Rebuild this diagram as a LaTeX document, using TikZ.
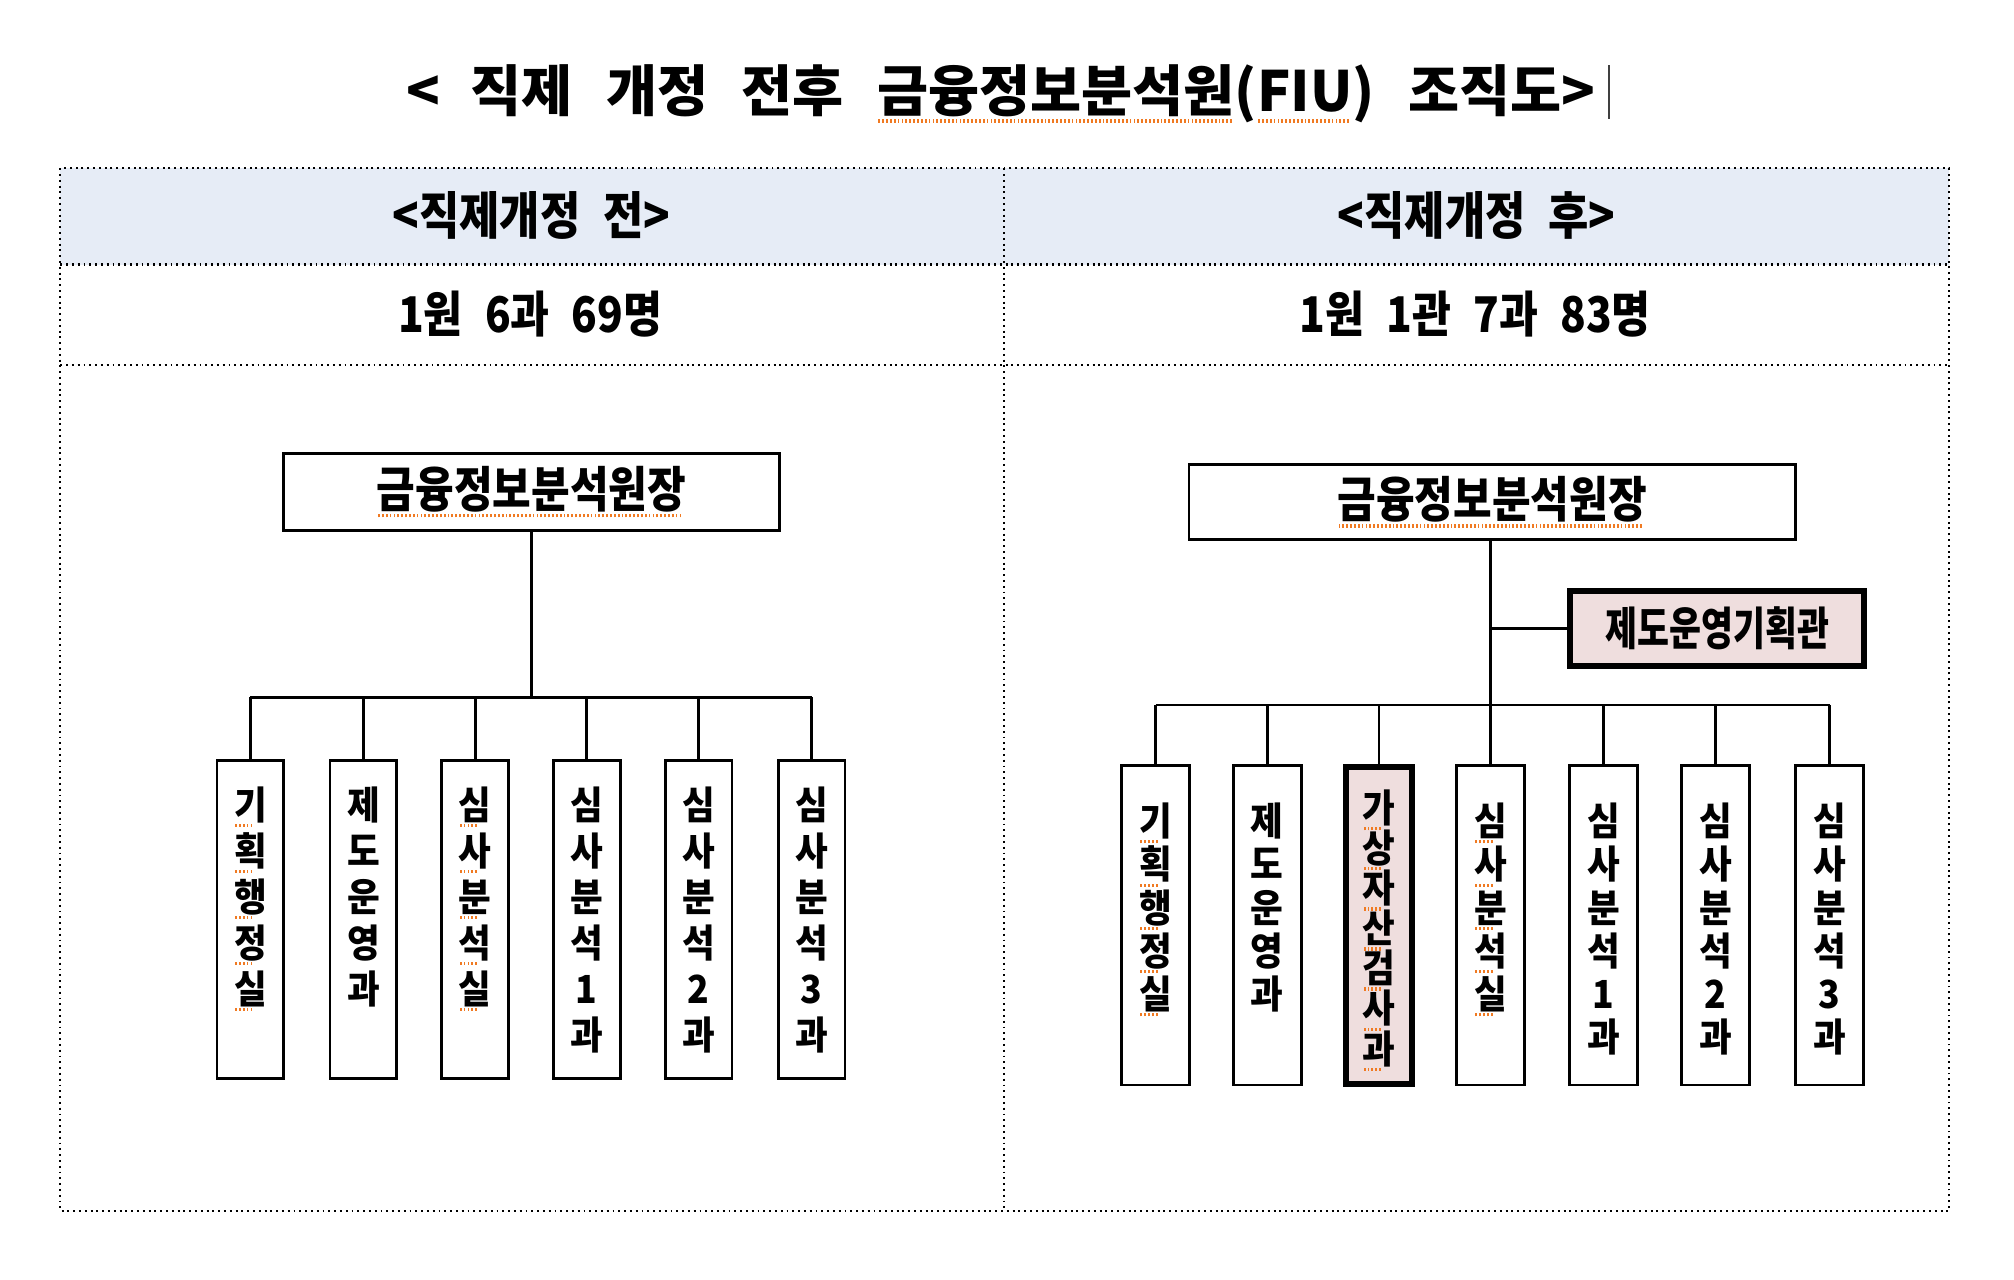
\documentclass[tikz,border=0pt]{standalone}
\usepackage{fontspec}
\setmainfont{Noto Sans CJK KR}[FakeStretch=0.86]
\newfontfamily\titlefont{Noto Sans CJK KR}
\newfontfamily\narrowfont{Noto Sans CJK KR}[FakeStretch=0.76]
\newfontfamily\vertfont{Noto Sans CJK KR}[FakeStretch=0.92]
\definecolor{hdrfill}{HTML}{E6ECF6}
\definecolor{pinkfill}{HTML}{EFDEDE}
\definecolor{spellc}{HTML}{F07A22}
\definecolor{cursorc}{HTML}{404040}
\newlength\dpx \setlength\dpx{0.1284mm}
\newlength\spw
\newcommand\spl[2][1]{\settowidth\spw{#2}\rlap{\raisebox{-0.2em}{\color{spellc}\leaders\hbox to 1.1pt{\hss\rule{0.5pt}{0.9pt}\hss}\hskip#1\spw}}#2}
\newcommand\vs[1]{\spl[0.62]{#1}}
\newcommand\tightlines{\lineskiplimit=-100pt\relax}
\begin{document}
\begin{tikzpicture}[x=0.1284mm,y=-0.1284mm,
  frameline/.style={line width=0.6pt,dash pattern=on 0.55pt off 1.1pt},
  orgbox/.style={draw,line width=0.8pt,rectangle,inner sep=0pt},
  dept/.style={orgbox,minimum width=52\dpx,minimum height=248\dpx},
  hotdept/.style={dept,line width=1.7pt,fill=pinkfill},
  conn/.style={line width=0.8pt},
  hdrtext/.style={font=\fontsize{14.5}{17}\selectfont\bfseries},
  cnttext/.style={font=\fontsize{14}{17}\selectfont\bfseries},
  toptext/.style={font=\fontsize{13.9}{16}\selectfont\bfseries},
  vtextL/.style={anchor=north,inner sep=0pt,align=center,font=\vertfont\fontsize{11}{13.1}\selectfont\bfseries\tightlines},
  vtextR/.style={anchor=north,inner sep=0pt,align=center,font=\vertfont\fontsize{11}{12.3}\selectfont\bfseries\tightlines},
  vtextH/.style={anchor=north,inner sep=0pt,align=center,font=\vertfont\fontsize{11}{11.4}\selectfont\bfseries\tightlines}]
\useasboundingbox (0,0) rectangle (1568.5,996.7);
% table frame
\fill[hdrfill] (47,131) rectangle (1518,206);
\draw[frameline] (47,131) rectangle (1518,943);
\draw[frameline] (47,206) -- (1518,206);
\draw[frameline] (47,284) -- (1518,284);
\draw[frameline] (782,131) -- (782,943);
% title
\node[anchor=west,inner sep=0pt,font=\titlefont\bfseries\fontsize{15.8}{18}\selectfont] (title) at (316,73)
  {<\hspace{0.55em}직제\hspace{0.6em}개정\hspace{0.6em}전후\hspace{0.6em}\spl{금융정보분석원}(\spl{FIU})\hspace{0.6em}조직도>};
\coordinate (curtop) at (1253,51);
\coordinate (curbot) at (1253,93);
\draw[cursorc,line width=0.8pt] (curtop) -- (curbot);
% headers
\node[hdrtext] (hL) at (414,168) {<직제개정\hspace{0.45em}전>};
\node[hdrtext] (hR) at (1150,168) {<직제개정\hspace{0.45em}후>};
\node[cnttext] (cL) at (413,245) {1원\hspace{0.45em}6과\hspace{0.45em}69명};
\node[cnttext] (cR) at (1149,245) {1원\hspace{0.45em}1관\hspace{0.45em}7과\hspace{0.45em}83명};
% ---------- left chart ----------
\node[orgbox,minimum width=386\dpx,minimum height=60\dpx,toptext] (topL) at (414,383) {\spl{금융정보분석원장}};
\coordinate (busL) at (414,543);
\foreach \n/\x in {1/195,2/283,3/370,4/457,5/544,6/632}
  \node[dept] (L\n) at (\x,716) {};
\draw[conn] (topL.south) -- (busL);
\draw[conn] (L1.north |- busL) -- (L6.north |- busL);
\foreach \n in {1,...,6} \draw[conn] (L\n.north |- busL) -- (L\n.north);
\node[vtextL] (tL1) at ([yshift=-21\dpx]L1.north) {\vs{기}\\\vs{획}\\\vs{행}\\\vs{정}\\\vs{실}};
\node[vtextL] (tL2) at ([yshift=-21\dpx]L2.north) {제\\도\\운\\영\\과};
\node[vtextL] (tL3) at ([yshift=-21\dpx]L3.north) {\vs{심}\\\vs{사}\\\vs{분}\\\vs{석}\\\vs{실}};
\node[vtextL] (tL4) at ([yshift=-21\dpx]L4.north) {심\\사\\분\\석\\1\\과};
\node[vtextL] (tL5) at ([yshift=-21\dpx]L5.north) {심\\사\\분\\석\\2\\과};
\node[vtextL] (tL6) at ([yshift=-21\dpx]L6.north) {심\\사\\분\\석\\3\\과};
% ---------- right chart ----------
\node[orgbox,minimum width=472\dpx,minimum height=58\dpx,toptext] (topR) at (1162,391) {\spl{금융정보분석원장}};
\node[orgbox,line width=1.7pt,fill=pinkfill,minimum width=229\dpx,minimum height=59\dpx,
  font=\narrowfont\bfseries\fontsize{13}{15}\selectfont] (plan) at (1337.5,489.5) {제도운영기획관};
\coordinate (busR) at (1161,549);
\foreach \n/\x in {1/900,2/987,4/1161,5/1249,6/1336,7/1425}
  \node[dept,minimum width=53\dpx,minimum height=249\dpx] (R\n) at (\x,720.5) {};
\node[hotdept,minimum width=52\dpx,minimum height=247\dpx] (R3) at (1074,720.5) {};
\draw[conn] (topR.south -| busR) -- (busR);
\draw[conn] (plan.west -| busR) -- (plan.west);
\draw[conn] (R1.north |- busR) -- (R7.north |- busR);
\foreach \n in {1,...,7} \draw[conn] (R\n.north |- busR) -- (R\n.north);
\node[vtextR] (tR1) at ([yshift=-30\dpx]R1.north) {\vs{기}\\\vs{획}\\\vs{행}\\\vs{정}\\\vs{실}};
\node[vtextR] (tR2) at ([yshift=-30\dpx]R2.north) {제\\도\\운\\영\\과};
\node[vtextH] (tR3) at ([yshift=-20\dpx]R3.north) {\vs{가}\\\vs{상}\\\vs{자}\\\vs{산}\\\vs{검}\\\vs{사}\\\vs{과}};
\node[vtextR] (tR4) at ([yshift=-30\dpx]R4.north) {\vs{심}\\\vs{사}\\\vs{분}\\\vs{석}\\\vs{실}};
\node[vtextR] (tR5) at ([yshift=-30\dpx]R5.north) {심\\사\\분\\석\\1\\과};
\node[vtextR] (tR6) at ([yshift=-30\dpx]R6.north) {심\\사\\분\\석\\2\\과};
\node[vtextR] (tR7) at ([yshift=-30\dpx]R7.north) {심\\사\\분\\석\\3\\과};
\end{tikzpicture}
\end{document}
